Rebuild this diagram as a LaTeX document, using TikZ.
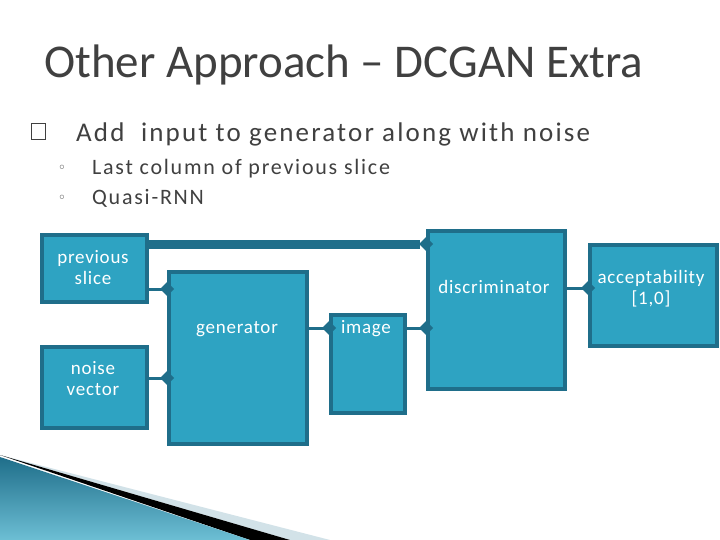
\documentclass[tikz,border=0pt]{standalone}
\usepackage{fontspec}
\setmainfont{Carlito}
\newfontfamily\spc[LetterSpace=8]{Carlito}
\newfontfamily\spcb[LetterSpace=4]{Carlito}
\newfontfamily\symf{DejaVu Sans}
\usetikzlibrary{arrows.meta}
\definecolor{bfill}{HTML}{2EA3C2}
\definecolor{bdraw}{HTML}{1F6E8A}
\definecolor{ttl}{HTML}{404040}
\tikzset{blk/.style={draw=bdraw,fill=bfill,line width=4pt,inner sep=0pt},
btxt/.style={text=white,align=center,font=\spcb\fontsize{19}{21}\selectfont},
con/.style={draw=bdraw,line width=3pt}}
\newcommand\dmd[1]{\fill[bdraw] ([xshift=-7pt]#1) -- ++(7pt,-7pt) -- ++(7pt,7pt) -- ++(-7pt,7pt) -- cycle;}
\begin{document}
\begin{tikzpicture}[x=1pt,y=-1pt]
\useasboundingbox (0,0) rectangle (720,540);
\fill[white] (0,0) rectangle (720,540);
% bottom decoration
\fill[bdraw!20] (0,455) -- (330,540) -- (290,540) -- cycle;
\fill[black] (0,455) -- (290,540) -- (250,540) -- cycle;
\shade[left color=bdraw,right color=bfill!70!white,shading angle=0] (0,457) -- (250,540) -- (0,540) -- cycle;
% title
\node[anchor=base west,text=ttl,font=\fontsize{47}{48}\selectfont,inner sep=0pt] (title) at (44,78) {Other Approach – DCGAN Extra};
\draw[ttl,line width=0.8pt] (31,123) rectangle (45,139);
\node[anchor=base west,text=ttl,font=\spc\fontsize{27}{28}\selectfont,inner sep=0pt] (b1) at (76,142) {Add \ input to generator along with noise};
\node[text=ttl,font=\symf\fontsize{14}{14}\selectfont,inner sep=0pt] (d1) at (62,169) {◦};
\node[text=ttl,font=\symf\fontsize{14}{14}\selectfont,inner sep=0pt] (d2) at (62,199) {◦};
\node[anchor=base west,text=ttl,font=\spc\fontsize{22}{24}\selectfont,inner sep=0pt] (s1) at (92,175) {Last column of previous slice};
\node[anchor=base west,text=ttl,font=\spc\fontsize{22}{24}\selectfont,inner sep=0pt] (s2) at (92,205) {Quasi-RNN};
% boxes
\node[blk,minimum width=105pt,minimum height=67pt,anchor=north west] (prev) at (40,233) {};
\node[btxt] at (93,268) {previous\\slice};
\node[blk,minimum width=105pt,minimum height=81pt,anchor=north west] (noise) at (40,345) {};
\node[btxt] at (93,379) {noise\\vector};
\node[blk,minimum width=138pt,minimum height=172pt,anchor=north west] (gen) at (167,270) {};
\node[btxt] at (237,329) {generator};
\node[blk,minimum width=74pt,minimum height=98pt,anchor=north west] (img) at (329,313) {};
\node[btxt] at (366,329) {image};
\node[blk,minimum width=137pt,minimum height=158pt,anchor=north west] (disc) at (426,229) {};
\node[btxt] at (494,287) {discriminator};
\node[blk,minimum width=127pt,minimum height=101pt,anchor=north west] (acc) at (588,243) {};
\node[btxt] at (651,289) {acceptability\\{[1,0]}};
% connectors
\draw[con,line width=9pt] (prev.east|-0,244) -- ([xshift=-6pt]disc.west|-0,244);
\dmd{disc.west|-0,244}
\draw[con] (prev.east|-0,289) -- (gen.west|-0,289); \dmd{gen.west|-0,289}
\draw[con] (noise.east|-0,378) -- (gen.west|-0,378); \dmd{gen.west|-0,378}
\draw[con] (gen.east|-0,328) -- (img.west|-0,328); \dmd{img.west|-0,328}
\draw[con] (img.east|-0,328) -- (disc.west|-0,328); \dmd{disc.west|-0,328}
\draw[con] (disc.east|-0,288) -- (acc.west|-0,288); \dmd{acc.west|-0,288}
\end{tikzpicture}
\end{document}
